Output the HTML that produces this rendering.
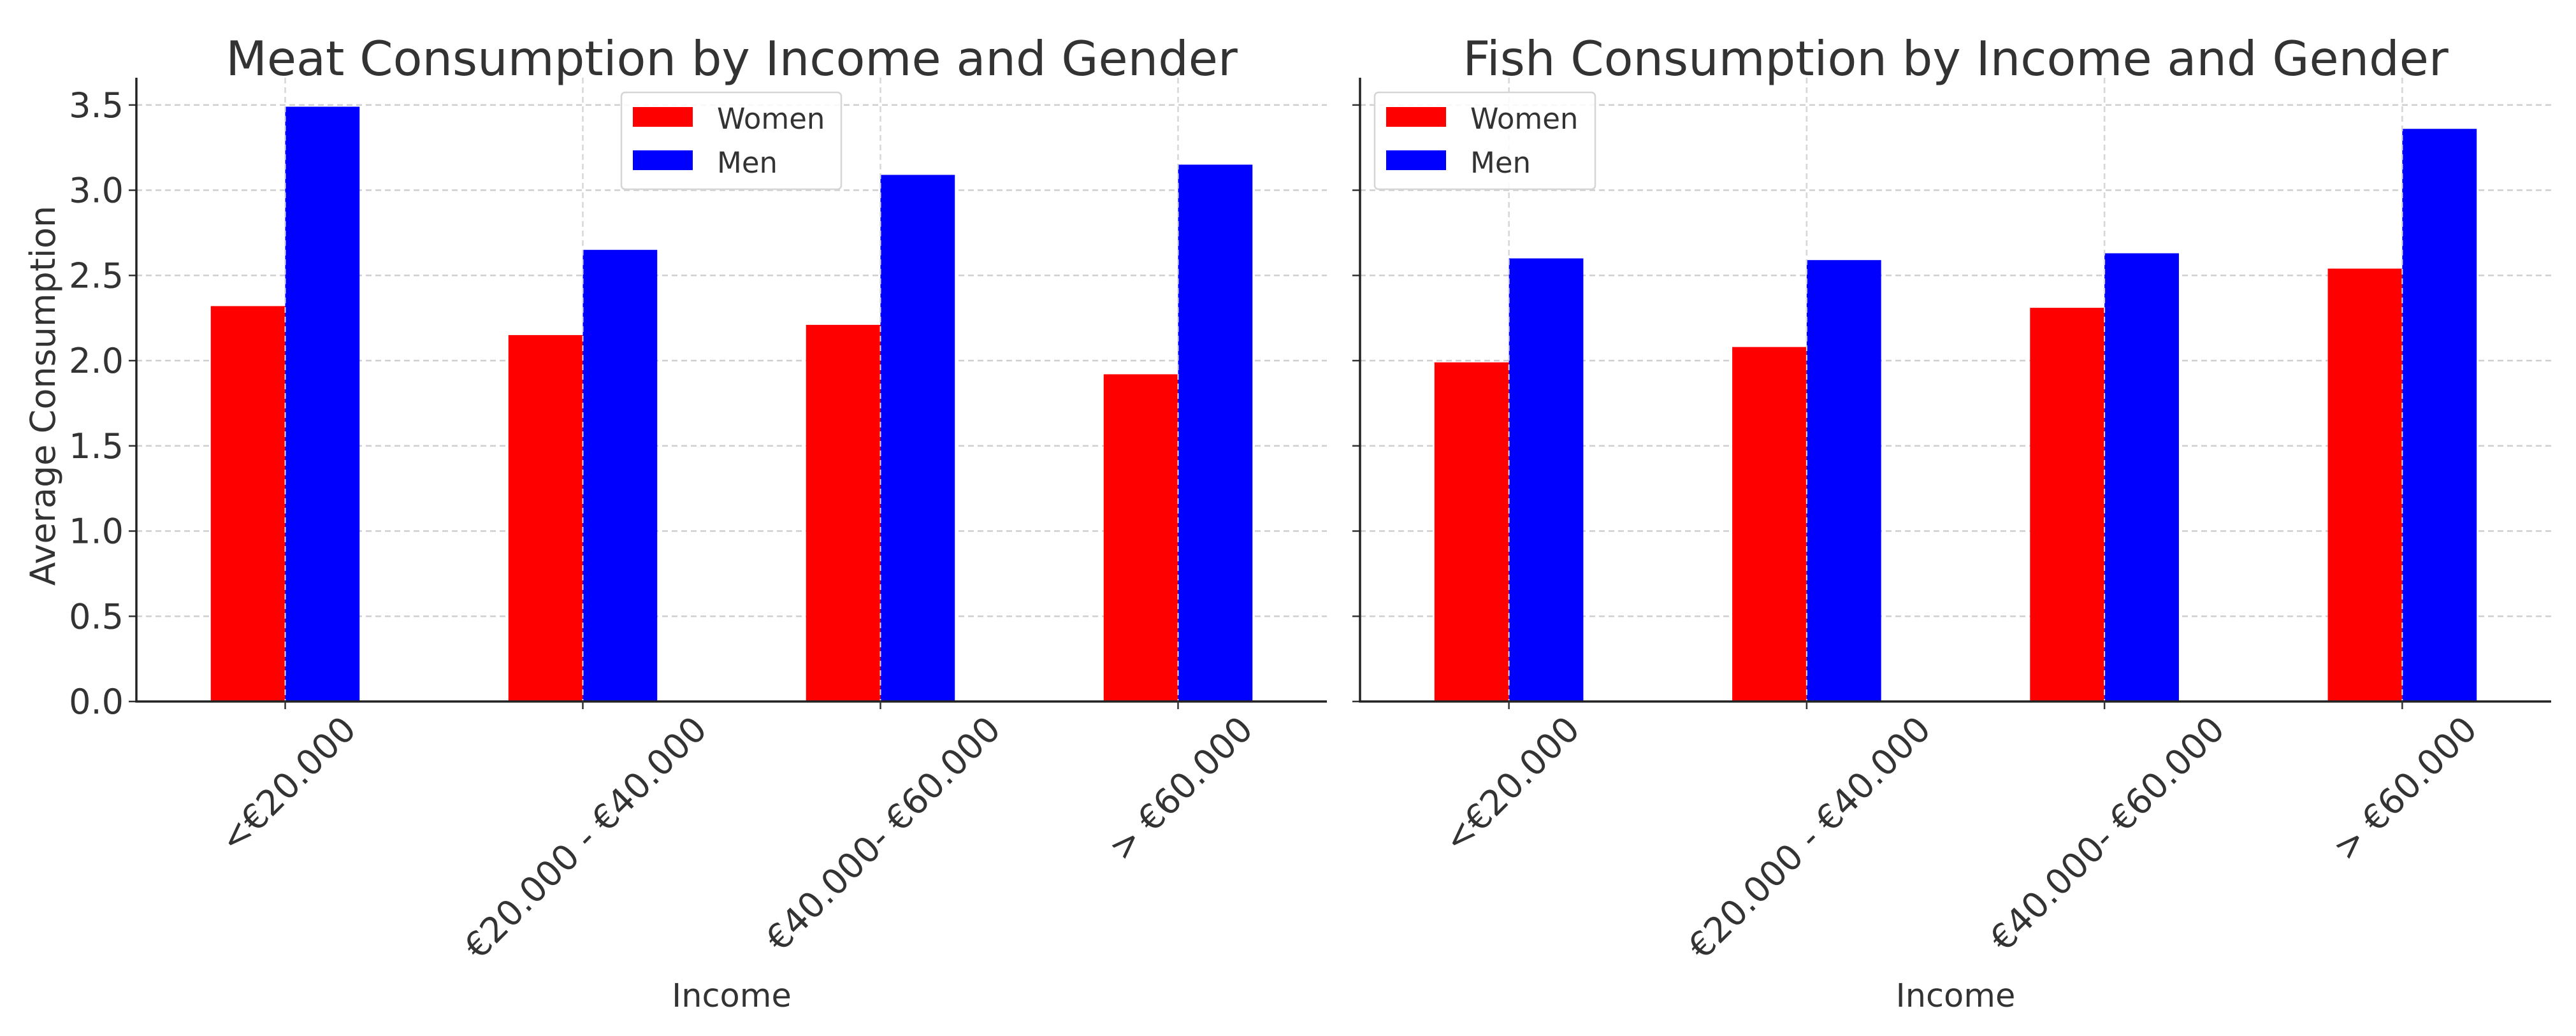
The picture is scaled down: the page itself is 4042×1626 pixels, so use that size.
<!DOCTYPE html>
<html><head><meta charset="utf-8"><style>
html,body{margin:0;padding:0;background:#fff}
svg text{font-family:"DejaVu Sans","Liberation Sans",sans-serif;fill:#333}
</style></head><body>
<svg id="chart" width="4042" height="1621" viewBox="0 0 4042 1621" xmlns="http://www.w3.org/2000/svg"></svg>
<script>
const categories = ["<€20.000", "€20.000 - €40.000", "€40.000- €60.000", "> €60.000"];
const meatWomen = [2.32, 2.15, 2.21, 1.92];
const meatMen = [3.49, 2.65, 3.09, 3.15];
const fishWomen = [1.99, 2.08, 2.31, 2.54];
const fishMen = [2.60, 2.59, 2.63, 3.36];
const yTicks = [0.0, 0.5, 1.0, 1.5, 2.0, 2.5, 3.0, 3.5];
const yTickLabels = ["0.0", "0.5", "1.0", "1.5", "2.0", "2.5", "3.0", "3.5"];

const NS = "http://www.w3.org/2000/svg";
const svg = document.getElementById("chart");
function mk(tag, attrs, parent){const e=document.createElementNS(NS,tag);for(const k in attrs)e.setAttribute(k,attrs[k]);(parent||svg).appendChild(e);return e;}

const yBottom = 1101, yTop = 122, yMax = 3.66;
function yScale(v){return yBottom - v/yMax*(yBottom-yTop);}

function panel(cfg){
  const g = mk("g",{});
  
  
  const L=cfg.left, R=cfg.right;
  const xScale = i => L + (i+0.5)/4*(R-L);
  const unit = (R-L)/4;
  yTicks.forEach((t,i)=>{
    const y=yScale(t);
    const gl=mk("line",{x1:L,x2:R,y1:y,y2:y,stroke:"#cfcfcf","stroke-width":2.5,"stroke-dasharray":"9,6"},g);
    
    
    const tk=mk("line",{x1:L-12,x2:L,y1:y,y2:y,stroke:"#333","stroke-width":2.5},g);
    
    
    if(cfg.showY){
      const tl=mk("text",{x:L-20,y:y+19,"text-anchor":"end","font-size":54},g);
      tl.textContent=yTickLabels[i];
      
      
    }
  });
  categories.forEach((c,i)=>{
    const x=xScale(i);
    const vl=mk("line",{x1:x,x2:x,y1:yTop,y2:yBottom,stroke:"#cfcfcf","stroke-width":2.5,"stroke-dasharray":"9,6"},g);
    
    
  });
  categories.forEach((c,i)=>{
    const x=xScale(i), w=unit*0.25;
    const bw=mk("rect",{x:x-w,y:yScale(cfg.women[i]),width:w,height:yBottom-yScale(cfg.women[i]),fill:"#ff0000"},g);
    
    
    const bm=mk("rect",{x:x,y:yScale(cfg.men[i]),width:w,height:yBottom-yScale(cfg.men[i]),fill:"#0000ff"},g);
    
    
  });
  categories.forEach((c,i)=>{
    const x=xScale(i);
    const vl=mk("line",{x1:x,x2:x,y1:yTop,y2:yBottom,stroke:"#d8d8d8","stroke-width":2,"stroke-dasharray":"9,6"},g);
    
    
  });
  const sl=mk("line",{x1:L,x2:L,y1:yTop,y2:yBottom+1.5,stroke:"#222","stroke-width":3.5},g);
  
  
  const sb=mk("line",{x1:L-1.5,x2:R,y1:yBottom,y2:yBottom,stroke:"#222","stroke-width":3.5},g);
  
  
  categories.forEach((c,i)=>{
    const x=xScale(i);
    const tk=mk("line",{x1:x,x2:x,y1:yBottom,y2:yBottom+12,stroke:"#333","stroke-width":2.5},g);
    
    
    const t=mk("text",{x:0,y:0,"text-anchor":"middle","font-size":55},g);
    t.textContent=c;
    
    
    const len=t.getComputedTextLength();
    const bh=(len+55*0.75)*0.7071;
    const cy=1120+bh/2;
    t.setAttribute("transform",`translate(${x+4},${cy}) rotate(-45) translate(0,19)`);
  });
  const ti=mk("text",{x:(L+R)/2,y:118,"text-anchor":"middle","font-size":75},g);
  ti.textContent=cfg.title;
  
  
  const xl=mk("text",{x:(L+R)/2,y:1580,"text-anchor":"middle","font-size":51},g);
  xl.textContent="Income";
  
  
  const lg=mk("g",{},g);
  
  
  const lx=cfg.legendX;
  mk("rect",{x:lx,y:145,width:cfg.legendW,height:152,rx:6,fill:"#fff","fill-opacity":0.85,stroke:"#d5d5d5","stroke-width":2.5},lg);
  const items=[["Women","#ff0000",168,202],["Men","#0000ff",236,271]];
  items.forEach(([lab,col,py,ty])=>{
    const p=mk("rect",{x:lx+18,y:py,width:94,height:31,fill:col},lg);
    
    
    const tt=mk("text",{x:lx+150,y:ty,"font-size":45},lg);
    tt.textContent=lab;
    
    
  });
}

panel({name:"meat-chart",left:214,right:2082,showY:true,women:meatWomen,men:meatMen,title:"Meat Consumption by Income and Gender",legendX:975,legendW:345});
panel({name:"fish-chart",left:2134,right:4003,showY:false,women:fishWomen,men:fishMen,title:"Fish Consumption by Income and Gender",legendX:2157,legendW:346});

const yl=mk("text",{x:0,y:0,"text-anchor":"middle","font-size":54,transform:"translate(86,621) rotate(-90)"});
yl.textContent="Average Consumption";


</script>
</body></html>
